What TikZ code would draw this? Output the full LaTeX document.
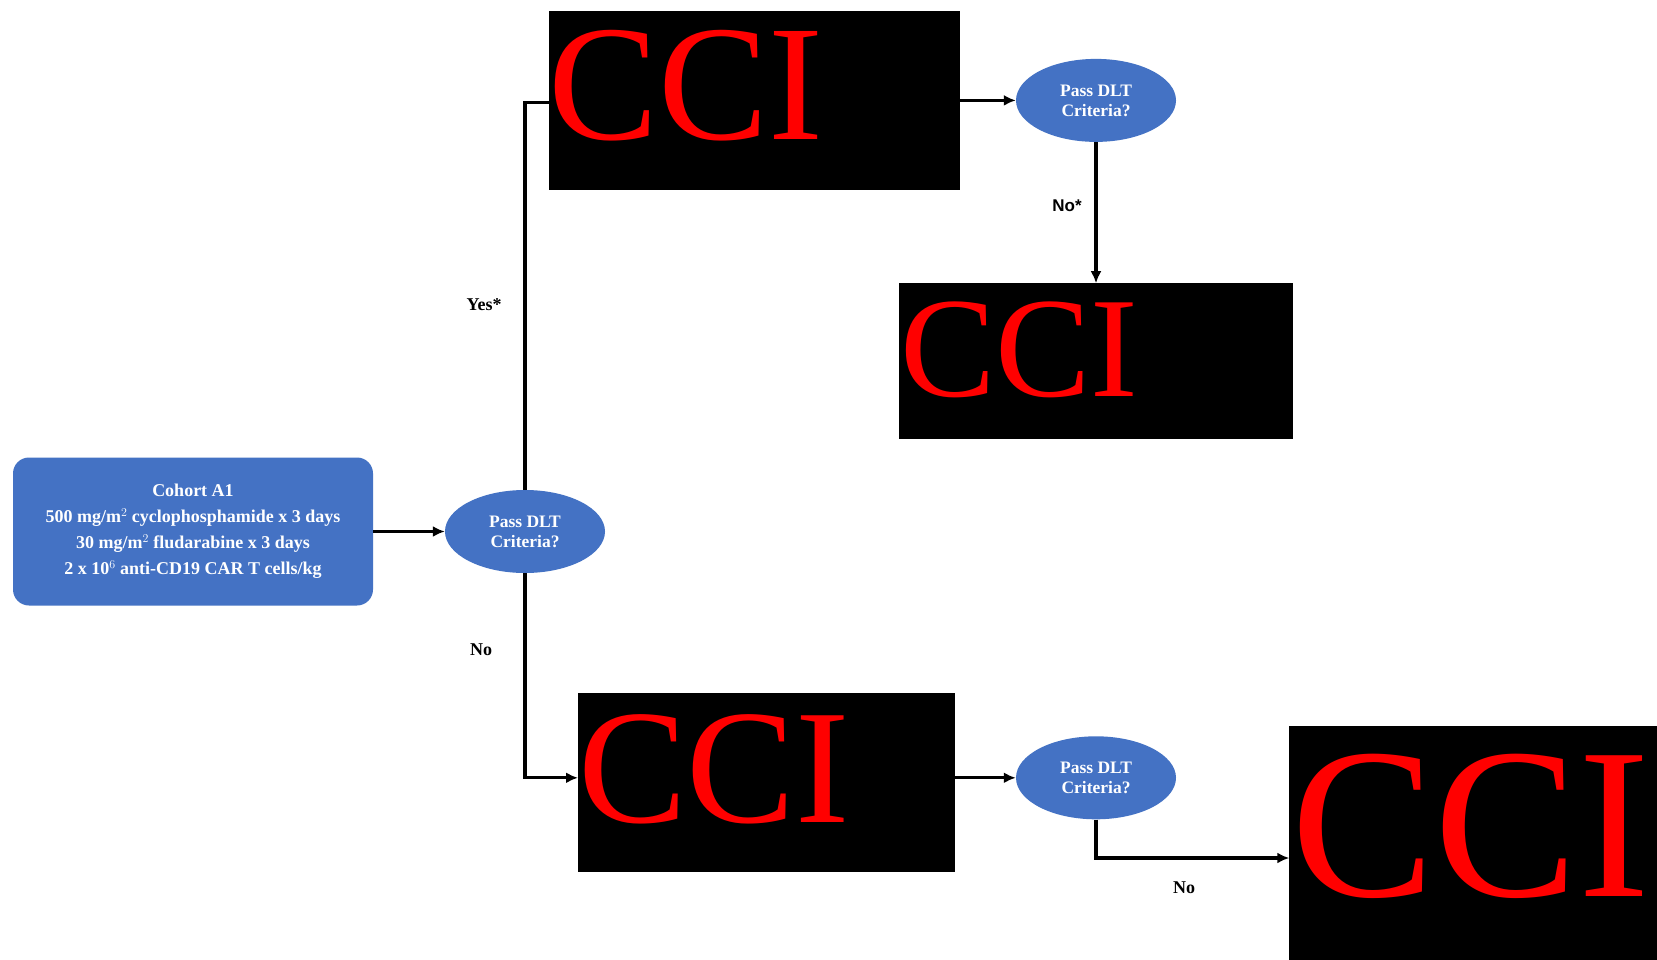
\documentclass[tikz,border=0pt]{standalone}
\usepackage{fontspec}
\setmainfont{Liberation Serif}
\newfontfamily\sansf{Liberation Sans}
\usetikzlibrary{arrows.meta,shapes.geometric}
\definecolor{cblue}{HTML}{4472C4}
\begin{document}
\begin{tikzpicture}[x=1pt,y=-1pt,
  redact/.style={fill=black,draw=none,inner sep=0,outer sep=0},
  ccitext/.style={text=red,anchor=base west,inner sep=0,font=\fontsize{#1}{#1}\selectfont},
  decision/.style={ellipse,fill=cblue,draw=none,inner sep=0,minimum width=160,minimum height=83,text=white,align=center,font=\bfseries\fontsize{17.5}{20}\selectfont},
  startbox/.style={rectangle,rounded corners=16,fill=cblue,draw=none,text=white,align=center,minimum width=360,minimum height=148,font=\bfseries\fontsize{18}{26}\selectfont},
  conn/.style={line width=3.2pt,black},
  arr/.style={conn,-{Latex[length=12pt,width=11pt]}},
  lbl/.style={font=\bfseries\fontsize{18}{20}\selectfont,inner sep=0}
]
\useasboundingbox (0,0) rectangle (1657,960);
\clip (0,0) rectangle (1657,960);
\fill[white] (0,0) rectangle (1657,960);

% start
\node[startbox] (cohort) at (193,531.5) {Cohort A1\\500 mg/m$^{2}$ cyclophosphamide x 3 days\\30 mg/m$^{2}$ fludarabine x 3 days\\2 x 10$^{6}$ anti-CD19 CAR T cells/kg};

% decisions
\node[decision] (d0) at (525,531.5) {Pass DLT\\Criteria?};
\node[decision] (d1) at (1096,100.4) {Pass DLT\\Criteria?};
\node[decision] (d2) at (1096,777.8) {Pass DLT\\Criteria?};

% redacted boxes
\node[redact,minimum width=411.1,minimum height=179.6] (b1) at (754.05,100.4) {};
\node[redact,minimum width=393.2,minimum height=155.4] (b2) at (1095.9,360.9) {};
\node[redact,minimum width=377.4,minimum height=178.6] (b3) at (766.7,782.6) {};
\node[redact,minimum width=367.7,minimum height=234] (b4) at (1473.15,843) {};

\node[ccitext=165] (t1) at (548,139.5) {CCI};
\node[ccitext=143] (t2) at (900,396) {CCI};
\node[ccitext=163] (t3) at (578,822) {CCI};
\node[ccitext=215] (t4) at (1291,896) {CCI};

% connectors
\draw[arr] (cohort.east) -- (d0.west);
\coordinate (e1) at (d0.north |- 0,102.5);
\draw[conn] (d0.north) -- (e1) -- (b1.west |- e1);
\draw[arr] (d0.south) |- (b3.west |- d2.west);
\draw[arr] (b1.east |- d1.west) -- (d1.west);
\draw[arr] (d1.south) -- (b2.north -| d1.south);
\draw[arr] (b3.east |- d2.west) -- (d2.west);
\coordinate (e2) at (d2.south |- 0,858);
\draw[arr] (d2.south) -- (e2) -- (b4.west |- e2);

% labels
\node[lbl] (ly) at (484,305) {Yes*};
\node[lbl] (ln0) at (481,650) {No};
\node[lbl,font=\sansf\bfseries\fontsize{17}{19}\selectfont] (ln1) at (1067,206) {No*};
\node[lbl] (ln2) at (1184,888) {No};
\end{tikzpicture}
\end{document}
